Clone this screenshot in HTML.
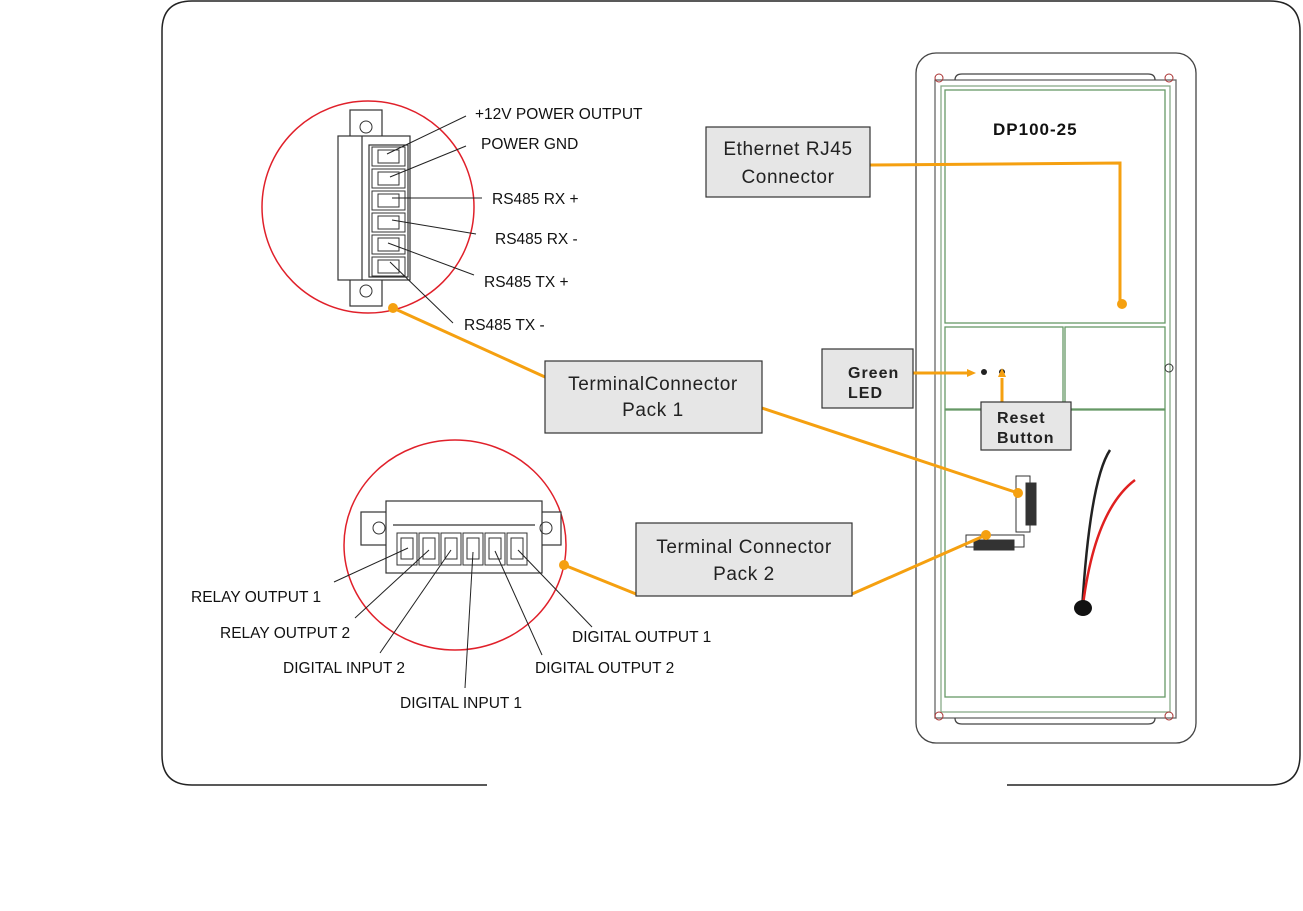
<!DOCTYPE html>
<html><head><meta charset="utf-8"><style>
html,body{margin:0;padding:0;background:#fff;}
svg{display:block;font-family:"Liberation Sans",sans-serif;}
</style></head><body>
<svg width="1303" height="911" viewBox="0 0 1303 911" xmlns="http://www.w3.org/2000/svg">
<path d="M487 785 H192 Q162 785 162 755 V31 Q162 1 192 1 H1270 Q1300 1 1300 31 V755 Q1300 785 1270 785 H1007" fill="none" stroke="#222" stroke-width="1.5"/>

<ellipse cx="368" cy="207" rx="106" ry="106" fill="none" stroke="#e0202a" stroke-width="1.5"/>
<g fill="#fff" stroke="#333" stroke-width="1.2">
<rect x="350" y="110" width="32" height="32"/>
<rect x="350" y="274" width="32" height="32"/>
<rect x="338" y="136" width="72" height="144"/>
<line x1="362" y1="136" x2="362" y2="280"/>
<rect x="369" y="145" width="39" height="132" fill="#fff"/>
</g>
<circle cx="366" cy="127" r="6" fill="none" stroke="#333"/>
<circle cx="366" cy="291" r="6" fill="none" stroke="#333"/>
<g fill="none" stroke="#333" stroke-width="1">
<rect x="372" y="147" width="33" height="19"/><rect x="378" y="150" width="21" height="13"/>
<rect x="372" y="169" width="33" height="19"/><rect x="378" y="172" width="21" height="13"/>
<rect x="372" y="191" width="33" height="19"/><rect x="378" y="194" width="21" height="13"/>
<rect x="372" y="213" width="33" height="19"/><rect x="378" y="216" width="21" height="13"/>
<rect x="372" y="235" width="33" height="19"/><rect x="378" y="238" width="21" height="13"/>
<rect x="372" y="257" width="33" height="19"/><rect x="378" y="260" width="21" height="13"/>
</g>
<g stroke="#222" stroke-width="1">
<line x1="387" y1="154" x2="466" y2="116"/>
<line x1="390" y1="177" x2="466" y2="146"/>
<line x1="392" y1="198" x2="482" y2="198"/>
<line x1="392" y1="220" x2="476" y2="234"/>
<line x1="388" y1="243" x2="474" y2="275"/>
<line x1="390" y1="262" x2="453" y2="323"/>
</g>
<g font-size="15.5" fill="#111">
<text x="475" y="119">+12V POWER OUTPUT</text>
<text x="481" y="149">POWER GND</text>
<text x="492" y="204">RS485 RX +</text>
<text x="495" y="244">RS485 RX -</text>
<text x="484" y="287">RS485 TX +</text>
<text x="464" y="330">RS485 TX -</text>
</g>

<ellipse cx="455" cy="545" rx="111" ry="105" fill="none" stroke="#e0202a" stroke-width="1.5"/>
<g fill="#fff" stroke="#333" stroke-width="1.2">
<rect x="361" y="512" width="200" height="33"/>
<rect x="386" y="501" width="156" height="72"/>
<line x1="393" y1="525" x2="535" y2="525"/>
</g>
<circle cx="379" cy="528" r="6" fill="none" stroke="#333"/>
<circle cx="546" cy="528" r="6" fill="none" stroke="#333"/>
<g fill="none" stroke="#333" stroke-width="1">
<rect x="397" y="533" width="20" height="32"/><rect x="401" y="538" width="12" height="21"/>
<rect x="419" y="533" width="20" height="32"/><rect x="423" y="538" width="12" height="21"/>
<rect x="441" y="533" width="20" height="32"/><rect x="445" y="538" width="12" height="21"/>
<rect x="463" y="533" width="20" height="32"/><rect x="467" y="538" width="12" height="21"/>
<rect x="485" y="533" width="20" height="32"/><rect x="489" y="538" width="12" height="21"/>
<rect x="507" y="533" width="20" height="32"/><rect x="511" y="538" width="12" height="21"/>
</g>
<g stroke="#222" stroke-width="1">
<line x1="408" y1="548" x2="334" y2="582"/>
<line x1="429" y1="550" x2="355" y2="618"/>
<line x1="451" y1="550" x2="380" y2="653"/>
<line x1="473" y1="552" x2="465" y2="688"/>
<line x1="495" y1="551" x2="542" y2="655"/>
<line x1="518" y1="550" x2="592" y2="627"/>
</g>
<g font-size="15.5" fill="#111">
<text x="191" y="602">RELAY OUTPUT 1</text>
<text x="220" y="638">RELAY OUTPUT 2</text>
<text x="283" y="673">DIGITAL INPUT 2</text>
<text x="400" y="708">DIGITAL INPUT 1</text>
<text x="535" y="673">DIGITAL OUTPUT 2</text>
<text x="572" y="642">DIGITAL OUTPUT 1</text>
</g>

<g fill="none" stroke="#444" stroke-width="1.3">
<rect x="916" y="53" width="280" height="690" rx="20"/>
<rect x="935" y="80" width="241" height="638" stroke="#666"/>
<rect x="941" y="86" width="229" height="626" stroke="#8a8"/>
<path d="M955 80 Q955 74 962 74 H1148 Q1155 74 1155 80"/>
<path d="M955 718 Q955 724 962 724 H1148 Q1155 724 1155 718"/>
<rect x="945" y="90" width="220" height="233" stroke="#696"/>
<rect x="945" y="327" width="118" height="82" stroke="#696"/>
<rect x="1065" y="327" width="100" height="82" stroke="#696"/>
<rect x="945" y="410" width="220" height="287" stroke="#696"/>
</g>
<g fill="none" stroke="#a33" stroke-width="1">
<circle cx="939" cy="78" r="4"/><circle cx="1169" cy="78" r="4"/>
<circle cx="939" cy="716" r="4"/><circle cx="1169" cy="716" r="4"/>
</g>
<circle cx="1169" cy="368" r="4" fill="none" stroke="#333"/>
<text x="993" y="135" font-size="17" font-weight="bold" fill="#111" letter-spacing="1">DP100-25</text>
<circle cx="984" cy="372" r="3" fill="#222"/><circle cx="1002" cy="372" r="3" fill="#222"/>
<g fill="#fff" stroke="#333" stroke-width="1">
<rect x="1016" y="476" width="14" height="56"/>
<rect x="1026" y="483" width="10" height="42" fill="#333"/>
<rect x="966" y="535" width="58" height="12"/>
<rect x="974" y="540" width="40" height="10" fill="#333"/>
</g>
<path d="M1110 450 Q1090 480 1082 610" fill="none" stroke="#222" stroke-width="2.5"/>
<path d="M1135 480 Q1095 510 1083 605" fill="none" stroke="#e02020" stroke-width="2.5"/>
<ellipse cx="1083" cy="608" rx="9" ry="8" fill="#111"/>

<g stroke="#f5a010" stroke-width="3" fill="none">
<polyline points="870,165 1120,163 1120,303"/>
<line x1="393" y1="308" x2="545" y2="377"/>
<line x1="762" y1="408" x2="1018" y2="493"/>
<line x1="636" y1="594" x2="564" y2="565"/>
<line x1="852" y1="594" x2="986" y2="535"/>
<line x1="913" y1="373" x2="968" y2="373"/>
<line x1="1002" y1="402" x2="1002" y2="378"/>
</g>
<g fill="#f5a010">
<circle cx="1122" cy="304" r="5"/><circle cx="393" cy="308" r="5"/>
<circle cx="1018" cy="493" r="5"/><circle cx="564" cy="565" r="5"/><circle cx="986" cy="535" r="5"/>
<polygon points="976,373 967,369 967,377"/>
<polygon points="1002,368 998,377 1006,377"/>
</g>

<g fill="#e6e6e6" stroke="#333" stroke-width="1.2">
<rect x="706" y="127" width="164" height="70"/>
<rect x="545" y="361" width="217" height="72"/>
<rect x="636" y="523" width="216" height="73"/>
<rect x="822" y="349" width="91" height="59"/>
<rect x="981" y="402" width="90" height="48"/>
</g>
<g font-size="19" fill="#222" text-anchor="middle" letter-spacing="0.6">
<text x="788" y="155">Ethernet RJ45</text>
<text x="788" y="183">Connector</text>
<text x="653" y="390">TerminalConnector</text>
<text x="653" y="416">Pack 1</text>
<text x="744" y="553">Terminal Connector</text>
<text x="744" y="580">Pack 2</text>
</g>
<g font-size="16" font-weight="bold" fill="#222" letter-spacing="1">
<text x="848" y="378">Green</text>
<text x="848" y="398">LED</text>
<text x="997" y="423">Reset</text>
<text x="997" y="443">Button</text>
</g>
</svg>
</body></html>
